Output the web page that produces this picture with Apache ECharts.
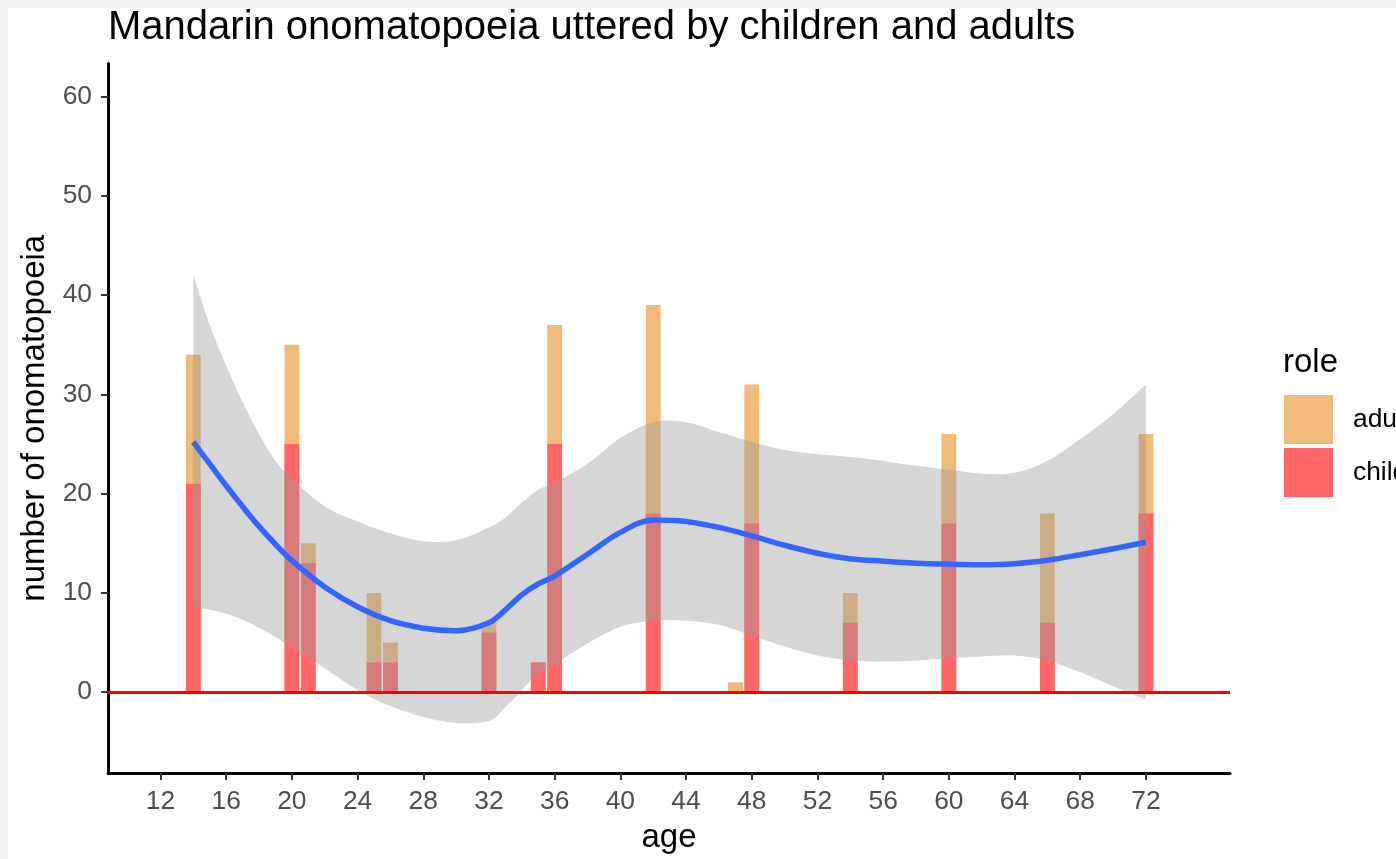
<!DOCTYPE html>
<html>
<head>
<meta charset="utf-8">
<title>Mandarin onomatopoeia</title>
<script src="https://cdn.jsdelivr.net/npm/echarts@6/dist/echarts.min.js"></script>
<style>
  html, body { margin: 0; padding: 0; background: #f2f2f2; width: 1396px; height: 859px; overflow: hidden; }
  #chart { position: absolute; left: 8px; top: 8px; width: 1388px; height: 851px; background: #ffffff; }
</style>
</head>
<body>
<div id="chart"></div>
<script>
// Counts of onomatopoeia per session age (months), split by speaker role
const ages = [14, 20, 21, 25, 26, 32, 35, 36, 42, 47, 48, 54, 60, 66, 72];
const childCounts = [21, 25, 13, 3, 3, 6, 3, 25, 18, 0, 17, 7, 17, 7, 18];
const adultCounts = [13, 10, 2, 7, 2, 1, 0, 12, 21, 1, 14, 3, 9, 11, 8];

// Smoothed trend (loess) with its confidence band
const smoothAges  = [14, 15, 16, 17, 18, 19, 20, 22, 24, 26, 28, 30, 32, 33, 34, 35, 36, 38, 40, 42, 44, 46, 48, 50, 52, 54, 56, 58, 60, 62, 64, 66, 68, 70, 72];
const smoothFit   = [25.2, 23.0, 20.8, 18.7, 16.7, 14.9, 13.25, 10.6, 8.6, 7.2, 6.45, 6.2, 7.0, 8.3, 9.8, 10.9, 11.7, 13.9, 16.1, 17.35, 17.2, 16.6, 15.75, 14.8, 14.0, 13.45, 13.2, 13.0, 12.9, 12.85, 12.95, 13.3, 13.85, 14.45, 15.1];
const smoothUpper = [42.0, 37.0, 32.9, 29.2, 26.0, 23.3, 21.5, 18.7, 17.2, 16.0, 15.2, 15.3, 16.6, 17.6, 19.1, 20.4, 21.1, 23.0, 25.6, 27.2, 27.2, 26.2, 25.2, 24.4, 24.0, 23.7, 23.3, 22.8, 22.4, 22.0, 22.1, 23.3, 25.5, 28.0, 31.0];
const smoothLower = [8.6, 8.3, 7.9, 7.3, 6.5, 5.55, 4.5, 2.4, 0.2, -1.4, -2.5, -3.1, -2.9, -1.5, 0.2, 1.9, 2.8, 4.9, 6.6, 7.2, 7.2, 6.8, 5.7, 4.6, 3.7, 3.2, 3.1, 3.2, 3.4, 3.6, 3.7, 3.2, 2.0, 0.6, -0.75];

// Axis ticks
const xTicks = [12, 16, 20, 24, 28, 32, 36, 40, 44, 48, 52, 56, 60, 64, 68, 72];
const yTicks = [0, 10, 20, 30, 40, 50, 60];

const X_MIN = 8.805, X_MAX = 77.12;
const Y_MIN = -8.14, Y_MAX = 63.33;

const FONT = '"Liberation Sans", Arial, Helvetica, sans-serif';
const W = 1388, H = 851;
const grid = { left: 100, top: 55.5, right: 166, bottom: 82 };
const plotWidth = W - grid.left - grid.right;
const barWidth = plotWidth / (X_MAX - X_MIN) * 0.9;

const pairs = (xs, ys) => xs.map((x, i) => [x, ys[i]]);
// Adult segment sits on top of the child segment: its bar reaches the total
const totals = childCounts.map((c, i) => c + adultCounts[i]);

// Catmull-Rom spline through pixel points, as cubic Bezier path commands
function splineCommands(pts) {
  let d = '';
  for (let i = 0; i < pts.length - 1; i++) {
    const p0 = pts[Math.max(i - 1, 0)];
    const p1 = pts[i];
    const p2 = pts[i + 1];
    const p3 = pts[Math.min(i + 2, pts.length - 1)];
    const c1 = [p1[0] + (p2[0] - p0[0]) / 6, p1[1] + (p2[1] - p0[1]) / 6];
    const c2 = [p2[0] - (p3[0] - p1[0]) / 6, p2[1] - (p3[1] - p1[1]) / 6];
    d += ' C' + c1[0] + ' ' + c1[1] + ' ' + c2[0] + ' ' + c2[1] + ' ' + p2[0] + ' ' + p2[1];
  }
  return d;
}

function renderBand(params, api) {
  const up = smoothAges.map((a, i) => api.coord([a, smoothUpper[i]]));
  const lo = smoothAges.map((a, i) => api.coord([a, smoothLower[i]])).reverse();
  const d = 'M' + up[0][0] + ' ' + up[0][1] + splineCommands(up) +
            ' L' + lo[0][0] + ' ' + lo[0][1] + splineCommands(lo) + ' Z';
  return {
    type: 'path',
    shape: { pathData: d },
    style: { fill: 'rgba(153,153,153,0.4)', stroke: null }
  };
}

const chart = echarts.init(document.getElementById('chart'), null, { renderer: 'canvas', width: W, height: H });

chart.setOption({
  animation: false,
  backgroundColor: '#ffffff',
  textStyle: { fontFamily: FONT },
  title: [
    {
      text: 'Mandarin onomatopoeia uttered by children and adults',
      left: 100, top: 0, padding: 0,
      textStyle: { fontSize: 40, fontWeight: 'normal', color: '#000000', fontFamily: FONT }
    },
    {
      text: 'role',
      left: 1275, top: 338, padding: 0,
      textStyle: { fontSize: 33, fontWeight: 'normal', color: '#000000', fontFamily: FONT }
    }
  ],
  legend: {
    data: ['adult', 'child'],
    orient: 'vertical',
    left: 1276, top: 387,
    padding: 0,
    itemWidth: 49, itemHeight: 49, itemGap: 4,
    icon: 'rect',
    selectedMode: false,
    textStyle: { fontSize: 26.4, color: '#000000', fontFamily: FONT, padding: [0, 0, 0, 15] }
  },
  grid: { left: grid.left, top: grid.top, right: grid.right, bottom: grid.bottom, containLabel: false },
  xAxis: {
    type: 'value',
    min: X_MIN, max: X_MAX,
    name: 'age',
    nameLocation: 'middle',
    nameGap: 48,
    nameTextStyle: { fontSize: 33, color: '#000000', fontFamily: FONT },
    axisLine: { show: true, onZero: false, lineStyle: { color: '#000000', width: 3 } },
    axisTick: { show: true, customValues: xTicks, length: 7, lineStyle: { color: '#333333', width: 2 } },
    axisLabel: { show: true, customValues: xTicks, fontSize: 26.4, color: '#4d4d4d', margin: 16, fontFamily: FONT },
    splitLine: { show: false }
  },
  yAxis: {
    type: 'value',
    min: Y_MIN, max: Y_MAX,
    name: 'number of onomatopoeia',
    nameLocation: 'middle',
    nameGap: 55,
    nameTextStyle: { fontSize: 33, color: '#000000', fontFamily: FONT },
    axisLine: { show: true, onZero: false, lineStyle: { color: '#000000', width: 3 } },
    axisTick: { show: true, customValues: yTicks, length: 7, lineStyle: { color: '#333333', width: 2 } },
    axisLabel: { show: true, customValues: yTicks, fontSize: 26.4, color: '#4d4d4d', margin: 16, fontFamily: FONT },
    splitLine: { show: false }
  },
  series: [
    {
      name: 'adult',
      type: 'bar',
      barWidth: barWidth,
      barGap: '-100%',
      itemStyle: { color: '#f0ba7a' },
      data: pairs(ages, totals),
      z: 2
    },
    {
      name: 'child',
      type: 'bar',
      barWidth: barWidth,
      barGap: '-100%',
      itemStyle: { color: '#ff6666' },
      data: pairs(ages, childCounts),
      z: 2
    },
    {
      name: 'band',
      type: 'custom',
      renderItem: renderBand,
      data: [[smoothAges[0], smoothFit[0]]],
      silent: true,
      z: 3
    },
    {
      name: 'trend',
      type: 'line',
      smooth: 0.35,
      symbol: 'none',
      lineStyle: { color: '#3366ff', width: 5.5 },
      data: pairs(smoothAges, smoothFit),
      silent: true,
      z: 5,
      markLine: {
        silent: true,
        symbol: ['none', 'none'],
        label: { show: false },
        lineStyle: { color: '#ff0000', width: 3, type: 'solid' },
        data: [{ yAxis: 0 }]
      }
    }
  ]
});
</script>
</body>
</html>
